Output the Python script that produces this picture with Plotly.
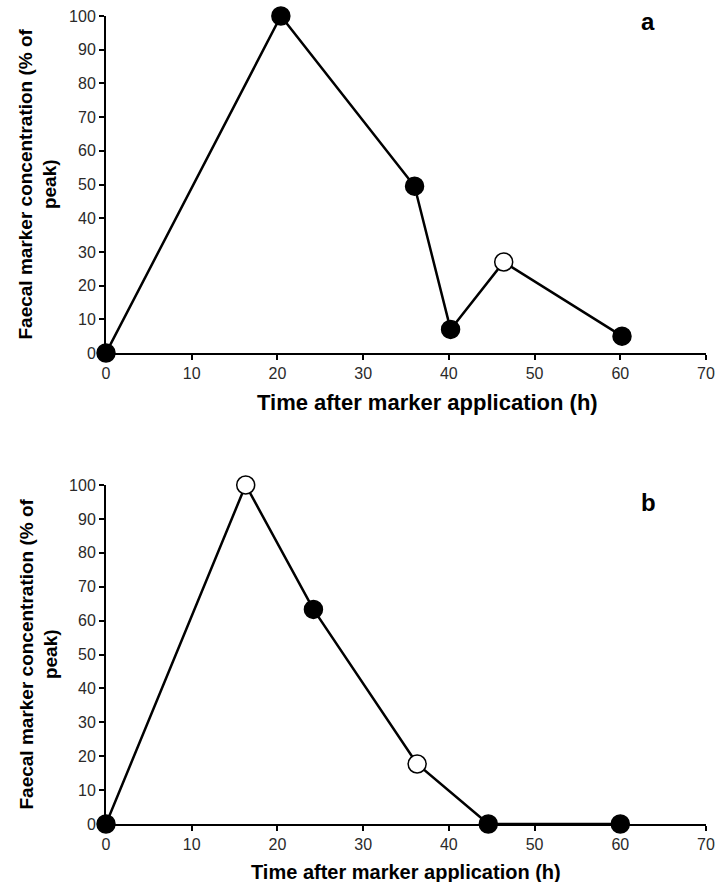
import plotly.graph_objects as go

# Panel a
time_a = [0, 20.4, 36.0, 40.2, 46.4, 60.2]
conc_a = [0, 100, 49.5, 7, 27, 5]
open_a = [False, False, False, False, True, False]

# Panel b
time_b = [0, 16.3, 24.2, 36.3, 44.6, 60.0]
conc_b = [0, 100, 63.3, 17.7, 0, 0]
open_b = [False, True, False, True, False, False]

x_ticks = [0, 10, 20, 30, 40, 50, 60, 70]
y_ticks = [0, 10, 20, 30, 40, 50, 60, 70, 80, 90, 100]
panel_labels = ["a", "b"]
y_title = "Faecal marker concentration (% of<br>peak)"
x_title = "Time after marker application (h)"

W, H = 715, 882
FONT = "Liberation Sans, Arial, sans-serif"

fig = go.Figure()

def add_panel(xs, ys, opens, xa, ya):
    fills = ["white" if o else "black" for o in opens]
    fig.add_trace(go.Scatter(
        x=xs, y=ys, mode="lines+markers", xaxis=xa, yaxis=ya,
        line=dict(color="black", width=2.5),
        marker=dict(size=18, color=fills, line=dict(color="black", width=1.5)),
        cliponaxis=False, showlegend=False,
    ))

add_panel(time_a, conc_a, open_a, "x", "y")
add_panel(time_b, conc_b, open_b, "x2", "y2")

def px(x):
    return x / W

def py(y):
    return 1 - y / H

top_dom = [py(353), py(16)]
bot_dom = [py(824), py(485)]
x_dom = [px(106), px(706)]

axis_common = dict(
    showgrid=False, zeroline=False, showline=True, linecolor="black", linewidth=2,
    ticks="outside", ticklen=5, tickwidth=1.5, tickcolor="black", automargin=False,
    ticklabeloverflow="allow",
    tickfont=dict(family=FONT, size=16, color="#2a2a2a"),
)

fig.update_layout(
    width=W, height=H,
    margin=dict(l=0, r=0, t=0, b=0, autoexpand=False),
    plot_bgcolor="white", paper_bgcolor="white",
    xaxis=dict(domain=x_dom, anchor="y", range=[0, 70], tickvals=x_ticks, **axis_common),
    yaxis=dict(domain=top_dom, anchor="x", range=[0, 100], tickvals=y_ticks, **axis_common),
    xaxis2=dict(domain=x_dom, anchor="y2", range=[0, 70], tickvals=x_ticks, **axis_common),
    yaxis2=dict(domain=bot_dom, anchor="x2", range=[0, 100], tickvals=y_ticks, **axis_common),
)

panels = [
    (top_dom, panel_labels[0], 427, 402, 22, 21),
    (bot_dom, panel_labels[1], 406, 872, 20, 502),
]
for dom, lab, xt_x, xt_y, xt_size, lab_y in panels:
    mid = (dom[0] + dom[1]) / 2
    fig.add_annotation(
        text="<b>" + y_title + "</b>", x=px(38), y=mid, xref="paper", yref="paper",
        textangle=-90, showarrow=False, font=dict(family=FONT, size=19, color="black"),
        xanchor="center", yanchor="middle",
    )
    fig.add_annotation(
        text="<b>" + x_title + "</b>", x=px(xt_x), y=py(xt_y), xref="paper", yref="paper",
        showarrow=False, font=dict(family=FONT, size=xt_size, color="black"),
        xanchor="center", yanchor="middle",
    )
    fig.add_annotation(
        text="<b>" + lab + "</b>", x=px(648), y=py(lab_y), xref="paper", yref="paper",
        showarrow=False, font=dict(family=FONT, size=24, color="black"),
        xanchor="center", yanchor="middle",
    )

# remove the default page margin so the figure fills the window exactly
fig.write_html(
    "out.html",
    config={"displayModeBar": False},
    post_script="document.body.style.margin='0px';document.body.style.overflow='hidden';",
)
